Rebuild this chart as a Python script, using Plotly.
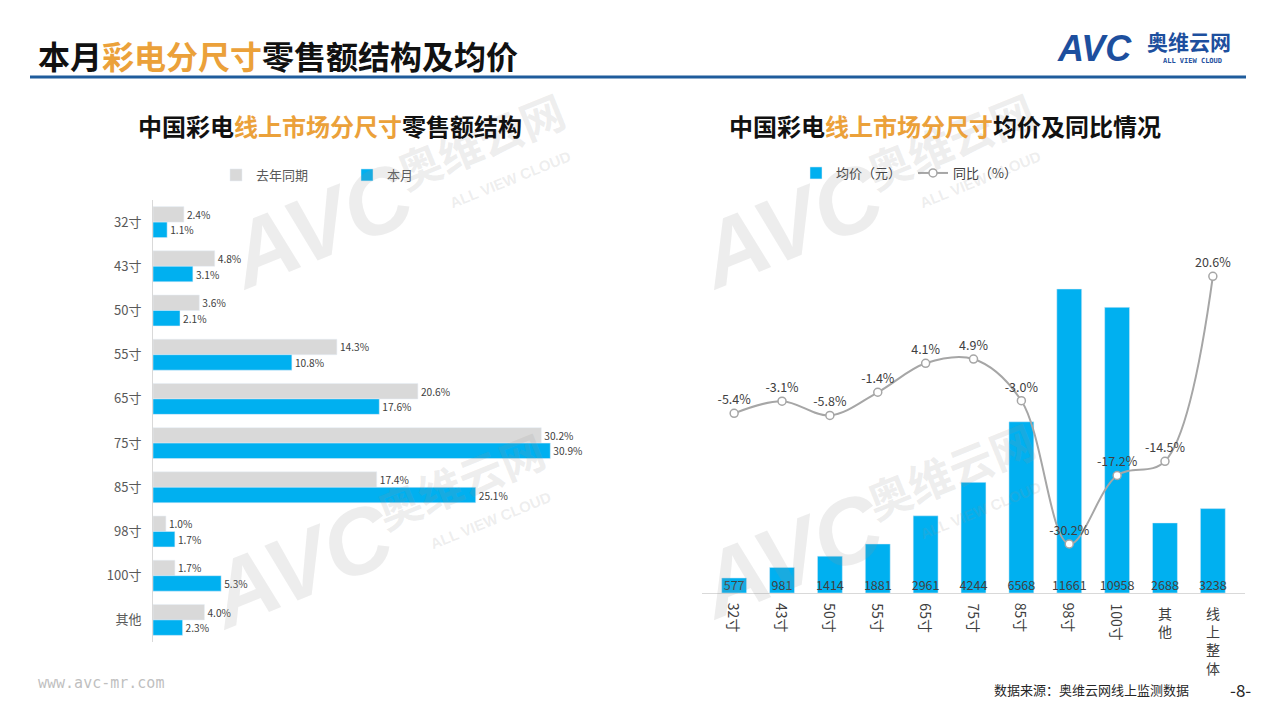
import plotly.graph_objects as go

# ---- data ----
sizes = ['32寸', '43寸', '50寸', '55寸', '65寸', '75寸', '85寸', '98寸', '100寸', '其他']
share_last_year = [2.4, 4.8, 3.6, 14.3, 20.6, 30.2, 17.4, 1.0, 1.7, 4.0]
share_this_month = [1.1, 3.1, 2.1, 10.8, 17.6, 30.9, 25.1, 1.7, 5.3, 2.3]

price_cats = ['32寸', '43寸', '50寸', '55寸', '65寸', '75寸', '85寸', '98寸', '100寸', '其他', '线上整体']
avg_price = [577, 981, 1414, 1881, 2961, 4244, 6568, 11661, 10958, 2688, 3238]
yoy = [-5.4, -3.1, -5.8, -1.4, 4.1, 4.9, -3.0, -30.2, -17.2, -14.5, 20.6]

W, H = 1280, 719
FONT = 'Noto Sans CJK SC'
GREY_BAR = '#D9D9D9'
BLUE = '#00B0F0'
ORANGE = '#EBA13A'
NAVY = '#1F5C9C'


def px(x):
    return x / W


def py(y):
    return 1 - y / H


def note(x, y, text, size, color, family=FONT, xanchor='center', angle=0):
    # free text placed in page pixels
    return dict(x=px(x), y=py(y), xref='paper', yref='paper', text=text, showarrow=False,
                xanchor=xanchor, yanchor='middle', textangle=angle,
                font=dict(size=size, color=color, family=family))


fig = go.Figure()

# left chart: share structure
fig.add_trace(go.Bar(
    y=sizes, x=share_last_year, orientation='h', name='去年同期',
    marker_color=GREY_BAR, texttemplate='%{x:.1f}%', textposition='outside',
    textfont=dict(size=12.5, color='#404040'), cliponaxis=False,
    xaxis='x', yaxis='y', legend='legend'))
fig.add_trace(go.Bar(
    y=sizes, x=share_this_month, orientation='h', name='本月',
    marker_color=BLUE, texttemplate='%{x:.1f}%', textposition='outside',
    textfont=dict(size=12.5, color='#404040'), cliponaxis=False,
    xaxis='x', yaxis='y', legend='legend'))

# right chart: average price + yoy
fig.add_trace(go.Bar(
    x=price_cats, y=avg_price, name='均价（元）', marker_color=BLUE, width=0.52,
    xaxis='x2', yaxis='y2', legend='legend2'))
fig.add_trace(go.Scatter(
    x=price_cats, y=[0] * len(price_cats), mode='text',
    text=[str(v) for v in avg_price], textposition='top center',
    textfont=dict(size=12.5, color='#404040'), showlegend=False,
    xaxis='x2', yaxis='y2', cliponaxis=False))
fig.add_trace(go.Scatter(
    x=price_cats, y=yoy, mode='lines+markers+text', name='同比（%）',
    line=dict(color='#A6A6A6', width=2, shape='spline', smoothing=1),
    marker=dict(size=8, color='white', line=dict(color='#A6A6A6', width=1.5)),
    texttemplate='%{y:.1f}%', textposition='top center',
    textfont=dict(size=12.5, color='#404040'), cliponaxis=False,
    xaxis='x2', yaxis='y3', legend='legend2'))

annotations = []

# rotated category labels under the right chart
for c in price_cats:
    if c[0].isdigit():
        annotations.append(dict(x=c, xref='x2', y=py(601), yref='paper', text=c,
                                textangle=90, xanchor='center', yanchor='top', showarrow=False,
                                font=dict(size=14, color='#404040')))
    else:
        annotations.append(dict(x=c, xref='x2', y=py(601), yref='paper', text='<br>'.join(c),
                                xanchor='center', yanchor='top', showarrow=False,
                                font=dict(size=14, color='#404040')))

# faint watermarks
wm_color = 'rgba(150,150,150,0.17)'
for cx, cy in [(320, 225), (790, 225), (300, 565), (790, 555)]:
    annotations.append(note(cx, cy, '<b><i>AVC</i></b>', 92, wm_color, 'Liberation Sans', angle=-22))
    annotations.append(note(cx + 160, cy - 85, '<b>奥维云网</b>', 44, wm_color, angle=-22))
    annotations.append(note(cx + 190, cy - 45, '<b>ALL VIEW CLOUD</b>', 15, wm_color, 'Liberation Sans', angle=-22))

# titles
annotations.append(note(36, 55, f'<b>本月<span style="color:{ORANGE}">彩电分尺寸</span>零售额结构及均价</b>',
                        32, '#111111', xanchor='left'))
annotations.append(note(330, 125, f'<b>中国彩电<span style="color:{ORANGE}">线上市场分尺寸</span>零售额结构</b>',
                        24, '#111111'))
annotations.append(note(945, 125, f'<b>中国彩电<span style="color:{ORANGE}">线上市场分尺寸</span>均价及同比情况</b>',
                        24, '#111111'))

# logo
annotations.append(note(1094, 48, '<b><i>AVC</i></b>', 36, '#1D4F9E', 'Liberation Sans'))
annotations.append(note(1189, 41, '<b>奥维云网</b>', 21, '#1D4F9E'))
annotations.append(note(1192, 61, '<b>ALL VIEW CLOUD</b>', 7, '#1D4F9E', 'DejaVu Sans Mono'))

# footer
annotations.append(note(36, 683, 'www.avc-mr.com', 15, '#BFBFBF', 'DejaVu Sans Mono', xanchor='left'))
annotations.append(note(1191, 689, '数据来源：奥维云网线上监测数据', 13, '#262626', xanchor='right'))
annotations.append(note(1240, 689, '-8-', 17, '#262626'))

fig.update_layout(
    width=W, height=H,
    margin=dict(l=0, r=0, t=0, b=0),
    paper_bgcolor='white', plot_bgcolor='rgba(0,0,0,0)',
    font=dict(family=FONT, color='#404040'),
    barmode='group', bargap=0.3, bargroupgap=0,
    xaxis=dict(domain=[px(153), px(603)], range=[0, 35], visible=False, anchor='y'),
    yaxis=dict(domain=[py(642), py(200)], type='category', categoryorder='array', categoryarray=sizes,
               range=[len(sizes) - 0.5, -0.5], showline=True, linecolor='#D9D9D9', linewidth=1,
               ticks='', showgrid=False, zeroline=False, ticklabelstandoff=8,
               tickfont=dict(size=13, color='#595959'), anchor='x'),
    xaxis2=dict(domain=[px(702), px(1245)], type='category', categoryorder='array', categoryarray=price_cats,
                showline=True, linecolor='#D9D9D9', linewidth=1, ticks='', showticklabels=False,
                showgrid=False, anchor='y2'),
    yaxis2=dict(domain=[py(593), py(250)], range=[0, 13157], visible=False, anchor='x2'),
    yaxis3=dict(overlaying='y2', range=[-39.5, 25.6], visible=False, anchor='x2'),
    legend=dict(orientation='h', x=px(216), y=py(175), xanchor='left', yanchor='middle',
                font=dict(size=13, color='#595959'), traceorder='normal',
                entrywidth=86, bgcolor='rgba(0,0,0,0)'),
    legend2=dict(orientation='h', x=px(796), y=py(173), xanchor='left', yanchor='middle',
                 font=dict(size=13, color='#404040'), traceorder='normal',
                 entrywidth=72, bgcolor='rgba(0,0,0,0)'),
    shapes=[dict(type='line', xref='paper', yref='paper', x0=px(30), x1=px(1246), y0=py(77), y1=py(77),
                 line=dict(color=NAVY, width=3))],
    annotations=annotations,
)

fig.write_html('out.html', config={'displayModeBar': False},
               post_script="document.body.style.margin='0';document.body.style.overflow='hidden';")
